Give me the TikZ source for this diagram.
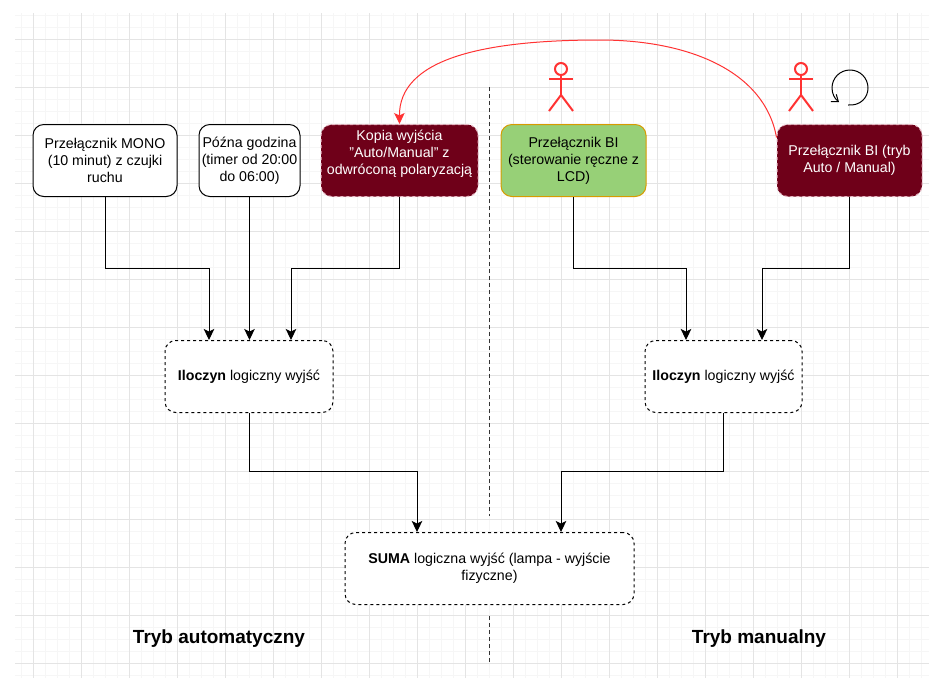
\documentclass[tikz,border=0pt]{standalone}
\usepackage{fontspec}
\setmainfont{Liberation Sans}
\usetikzlibrary{arrows.meta}
\definecolor{gridminor}{HTML}{F6F6F6}
\definecolor{gridmajor}{HTML}{E4E4E4}
\definecolor{cherry}{HTML}{6F0019}
\definecolor{cherryline}{HTML}{E8B8C4}
\definecolor{leaf}{HTML}{97D077}
\definecolor{leafline}{HTML}{D79B00}
\definecolor{redline}{HTML}{FF3333}
\definecolor{sepline}{HTML}{333333}
\tikzset{
  basebox/.style={rectangle,rounded corners=10.8pt,minimum height=72pt,inner sep=0pt,align=center,
    font=\fontsize{14.2pt}{17pt}\selectfont,line width=1pt},
  plainbox/.style={basebox,draw=black,fill=white},
  dashbox/.style={basebox,draw=black,fill=white,dash pattern=on 3pt off 3pt},
  cherrybox/.style={basebox,draw=cherryline,fill=cherry,text=white,dash pattern=on 3pt off 3pt},
  leafbox/.style={basebox,draw=leafline,fill=leaf},
  conn/.style={draw=black,line width=1pt,-{Stealth[length=11pt,width=10.5pt,inset=2.5pt]}},
  redconn/.style={draw=redline,line width=1pt,-{Stealth[length=11pt,width=10.5pt,inset=2.5pt]}},
  sep/.style={draw=sepline,line width=1pt,dash pattern=on 3.5pt off 3.5pt},
  actorline/.style={draw=redline,line width=2pt},
  title/.style={font=\fontsize{19pt}{22pt}\selectfont\bfseries,inner sep=0pt},
}
\begin{document}
\begin{tikzpicture}[x=1pt,y=-1pt]
\useasboundingbox[fill=white] (0,0) rectangle (943,694);
% grid
\foreach \gx in {21,33,...,921}{\draw[gridminor,line width=1pt] (\gx,13) -- (\gx,678);}
\foreach \gy in {15,27,...,675}{\draw[gridminor,line width=1pt] (15,\gy) -- (929,\gy);}
\foreach \gx in {33,81,...,921}{\draw[gridmajor,line width=1pt] (\gx,13) -- (\gx,678);}
\foreach \gy in {39,87,...,663}{\draw[gridmajor,line width=1pt] (15,\gy) -- (929,\gy);}
% separators
\coordinate (septop) at (489,87);
\coordinate (sepmid) at (489,516);
\coordinate (sepbot) at (489.5,616);
\coordinate (sepend) at (489.5,662);
\draw[sep] (septop) -- (sepmid);
\draw[sep] (sepbot) -- (sepend);
% boxes
\node[plainbox,minimum width=144pt] (mono) at (105,160.5) {Przełącznik MONO\\(10 minut) z czujki\\ruchu};
\node[plainbox,minimum width=101pt] (pozna) at (249.5,160.5) {Późna godzina\\(timer od 20:00\\do 06:00)};
\node[cherrybox,minimum width=157pt] (kopia) at (399.5,160.5) {Kopia wyjścia\\"Auto/Manual" z\\odwróconą polaryzacją\\\mbox{}};
\node[leafbox,minimum width=145pt] (bi) at (573.5,160.5) {Przełącznik BI\\(sterowanie ręczne z\\LCD)};
\node[cherrybox,minimum width=145pt] (tryb) at (849.5,160.5) {Przełącznik BI (tryb\\Auto / Manual)};
\node[dashbox,minimum width=168pt] (iloa) at (249,376.5) {\textbf{Iloczyn} logiczny wyjść};
\node[dashbox,minimum width=157pt] (ilob) at (723.5,376.5) {\textbf{Iloczyn} logiczny wyjść};
\node[dashbox,minimum width=289pt] (suma) at (489.5,568.5) {\textbf{SUMA} logiczna wyjść (lampa - wyjście\\fizyczne)};
% connectors
\draw[conn] (mono.south) |- (209,268) -- ([xshift=-40pt]iloa.north);
\draw[conn] (pozna.south) -- (iloa.north -| pozna.south);
\draw[conn] (kopia.south) |- (291,268) -- ([xshift=42pt]iloa.north);
\draw[conn] (bi.south) |- (686,268) -- ([xshift=-37.5pt]ilob.north);
\draw[conn] (tryb.south) |- (762,268) -- ([xshift=38.5pt]ilob.north);
\draw[conn] (iloa.south) |- (417,471) -- ([xshift=-72.5pt]suma.north);
\draw[conn] (ilob.south) |- (561,471) -- ([xshift=71.5pt]suma.north);
% red curve
\draw[redconn] ([yshift=23pt]tryb.west) .. controls (765,72) and (690,40) .. (600,40)
  .. controls (480,40) and (399,60) .. (kopia.north);
% actors
\foreach \ax/\an in {561/one,801/two}{
  \node[circle,draw=redline,line width=2pt,minimum size=12pt,inner sep=0pt] (head\an) at (\ax,69) {};
  \draw[actorline] (head\an.south) -- (\ax,95);
  \draw[actorline] (\ax-12,79) -- (\ax+12,79);
  \draw[actorline] (\ax-12,111) -- (\ax,95) -- (\ax+12,111);
}
% rotate symbol
\coordinate (rotstart) at (848,105);
\coordinate (rotend) at (839,102);
\draw[black,line width=1pt,-{Straight Barb[length=6pt,width=9pt]}] (rotstart) .. controls (860,106) and (868,98) .. (868,88)
  .. controls (868,78) and (860,70) .. (850,70)
  .. controls (840,70) and (832,78) .. (832,88)
  .. controls (832,94) and (835,99) .. (rotend);
% titles
\node[title] (auto) at (219,639) {Tryb automatyczny};
\node[title] (manual) at (759,639) {Tryb manualny};
\end{tikzpicture}
\end{document}
